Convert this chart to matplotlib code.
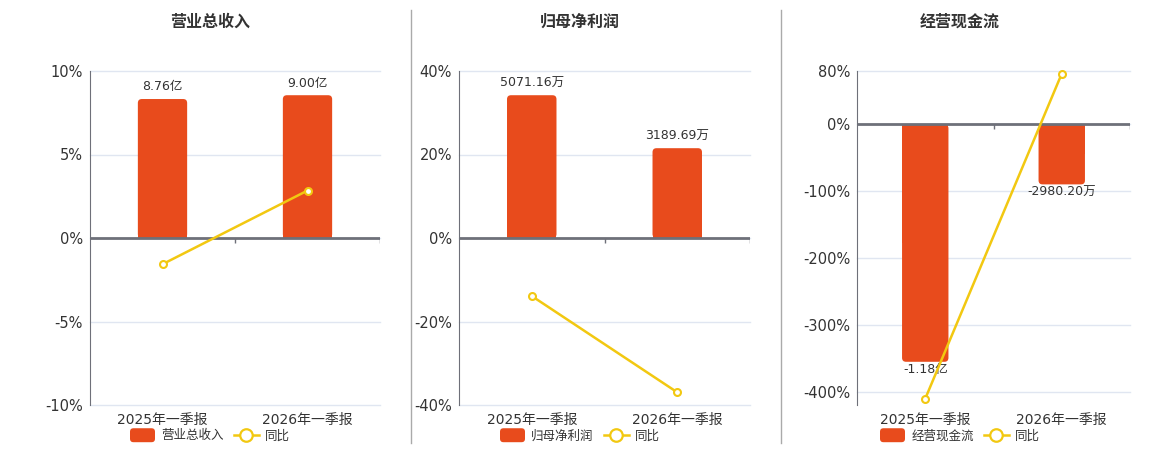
import matplotlib
matplotlib.use("Agg")
import matplotlib.pyplot as plt
import numpy as np
from matplotlib.patches import Patch, FancyBboxPatch
from matplotlib.lines import Line2D
from matplotlib.legend_handler import HandlerPatch

plt.rcParams['font.family'] = ['DejaVu Sans', 'Noto Sans CJK SC']

# data
periods = ["2025年一季报", "2026年一季报"]

titles = ["营业总收入", "归母净利润", "经营现金流"]

revenue = [87600.0, 90000.0]          # 万元
revenue_labels = ["8.76亿", "9.00亿"]
revenue_yoy = [-1.57, 2.84]           # %

profit = [5071.16, 3189.69]           # 万元
profit_labels = ["5071.16万", "3189.69万"]
profit_yoy = [-13.9, -36.96]

cashflow = [-11800.0, -2980.20]       # 万元
cashflow_labels = ["-1.18亿", "-2980.20万"]
cashflow_yoy = [-410.5, 76.0]

pct_ticks = [
    [-10, -5, 0, 5, 10],
    [-40, -20, 0, 20, 40],
    [-400, -300, -200, -100, 0, 80],
]
pct_lims = [(-10, 10), (-40, 40), (-420, 80)]

bars_all = [revenue, profit, cashflow]
labels_all = [revenue_labels, profit_labels, cashflow_labels]
yoy_all = [revenue_yoy, profit_yoy, cashflow_yoy]

# style
bar_color = '#e84b1c'
line_color = '#f2c811'
axis_color = '#6e7079'
grid_color = '#e0e6f1'
text_color = '#333333'
bar_w = 0.34
corner_px = 4


def rounded_handle(legend, orig_handle, xdescent, ydescent, width, height, fontsize):
    return FancyBboxPatch((-xdescent, -ydescent - 1), width, height + 2,
                          boxstyle="round,pad=0,rounding_size=2.5")


W, H = 1160, 450
fig = plt.figure(figsize=(W / 100, H / 100), dpi=100)

# axes boxes in pixels: left, right
boxes = [(90, 380), (459, 750), (857, 1130)]
top_px, bottom_px = 71, 405
centers = [210, 580, 960]

for i in range(3):
    l, r = boxes[i]
    ax = fig.add_axes([l / W, 1 - bottom_px / H, (r - l) / W, (bottom_px - top_px) / H])
    lo, hi = pct_lims[i]
    x = np.arange(len(periods))

    # percent axis (ticks + grid)
    ax.set_xlim(-0.5, len(periods) - 0.5)
    ax.set_ylim(lo, hi)
    ax.set_yticks(pct_ticks[i])
    ax.set_yticklabels([f"{t}%" for t in pct_ticks[i]])
    ax.set_xticks(x)
    ax.set_xticklabels(periods)
    ax.tick_params(axis='x', length=0, pad=6, labelsize=10, labelcolor=text_color)
    ax.tick_params(axis='y', length=0, pad=5, labelsize=10.5, labelcolor=text_color)
    ax.grid(axis='y', color=grid_color, lw=1)
    for g in ax.get_ygridlines():
        g.set_clip_on(False)
    ax.set_axisbelow(True)
    for s in ['top', 'right', 'bottom']:
        ax.spines[s].set_visible(False)
    ax.spines['left'].set_color(axis_color)

    # bar axis, zero aligned with percent axis
    bx = ax.twinx()
    vals = np.array(bars_all[i])
    if vals.max() > 0:
        b_hi = vals.max() / 0.855
        b_lo = b_hi * lo / hi
    else:
        b_lo = vals.min() / 0.846
        b_hi = b_lo * hi / lo
    bx.set_ylim(b_lo, b_hi)
    bx.set_yticks([])
    for s in bx.spines.values():
        s.set_visible(False)

    # rounded bars: plain half near zero + rounded full body
    xpp = len(periods) / (r - l)
    ypp = (b_hi - b_lo) / (bottom_px - top_px)
    bx.bar(x, vals / 2, width=bar_w, color=bar_color, zorder=2)
    for xi, v in zip(x, vals):
        bx.add_patch(FancyBboxPatch((xi - bar_w / 2, min(0, v)), bar_w, abs(v),
                                    boxstyle=f"round,pad=0,rounding_size={corner_px * xpp}",
                                    mutation_aspect=ypp / xpp, fc=bar_color, ec='none',
                                    zorder=2))
    for xi, lab, v in zip(x, labels_all[i], vals):
        if v >= 0:
            bx.annotate(lab, (xi, v), xytext=(0, 4), textcoords='offset points',
                        ha='center', va='bottom', fontsize=9, color=text_color)
        else:
            bx.annotate(lab, (xi, v), xytext=(0, -1), textcoords='offset points',
                        ha='center', va='top', fontsize=9, color=text_color)

    # line axis, same scale as percent axis
    lx = ax.twinx()
    lx.set_ylim(lo, hi)
    lx.set_yticks([])
    for s in lx.spines.values():
        s.set_visible(False)
    lx.axhline(0, color=axis_color, lw=2, zorder=3)
    d = (hi - lo) * 0.014
    lx.vlines(np.arange(len(periods)) + 0.5, -d, 0, color=axis_color, lw=1)
    lx.plot(x, yoy_all[i], '-o', color=line_color, lw=1.8, ms=5,
            mfc='white', mec=line_color, mew=1.5, zorder=4, clip_on=False)

    fig.text(centers[i] / W, 1 - 22 / H, titles[i], ha='center', va='center',
             fontsize=11.5, fontweight='bold', color=text_color)

    bar_handle = Patch(facecolor=bar_color, edgecolor='none')
    handles = [bar_handle,
               Line2D([], [], color=line_color, lw=1.8, marker='o', ms=9,
                      mfc='white', mec=line_color, mew=1.6)]
    fig.legend(handles, [titles[i], "同比"], loc='center',
               bbox_to_anchor=(centers[i] / W, 1 - 436 / H), ncol=2, frameon=False,
               fontsize=9, handlelength=2.0, handleheight=1.0, handletextpad=0.5,
               columnspacing=0.8, labelcolor=text_color, borderpad=0, borderaxespad=0,
               handler_map={bar_handle: HandlerPatch(patch_func=rounded_handle)})

# panel separators
for xs in [410.5, 780.5]:
    fig.add_artist(Line2D([xs / W, xs / W], [1 - 10 / H, 1 - 443 / H],
                          color='#aaaaaa', lw=1))

fig.savefig("out.png", dpi=100)
